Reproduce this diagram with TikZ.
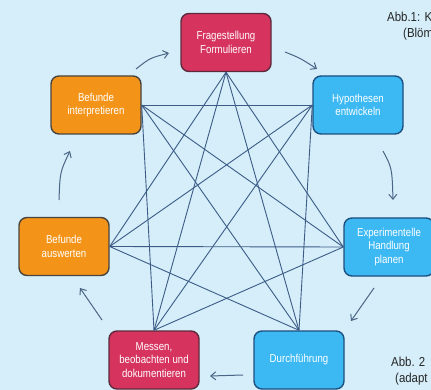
\documentclass[tikz,border=0pt]{standalone}
\usepackage{fontspec}
\setmainfont{Liberation Sans}
\newfontfamily\boxfont[FakeStretch=0.84]{Liberation Sans}
\newfontfamily\capfont[FakeStretch=0.88]{Liberation Sans}
\usetikzlibrary{arrows.meta}
\definecolor{bg}{HTML}{D5EEF9}
\definecolor{crim}{HTML}{D6335F}
\definecolor{crimb}{HTML}{5C2A3C}
\definecolor{oran}{HTML}{F39419}
\definecolor{oranb}{HTML}{4A4440}
\definecolor{blu}{HTML}{3CB9F3}
\definecolor{blub}{HTML}{1D4F80}
\definecolor{lin}{HTML}{3C5C87}
\definecolor{arr}{HTML}{4B6586}
\definecolor{capc}{HTML}{262626}
\tikzset{
  stepbox/.style={rounded corners=8pt, line width=1.4pt, minimum width=90pt, minimum height=58pt,
    inner sep=2pt, align=center, text=white, font=\boxfont\fontsize{11.5}{13.5}\selectfont},
  redbox/.style={stepbox, fill=crim, draw=crimb},
  orbox/.style={stepbox, fill=oran, draw=oranb},
  bluebox/.style={stepbox, fill=blu, draw=blub},
  link/.style={draw=lin, line width=0.9pt},
  cyc/.style={draw=arr, line width=1pt, -{Straight Barb[length=5pt,width=8pt]}},
  captxt/.style={text=capc, font=\capfont\fontsize{13}{16}\selectfont, anchor=west, inner sep=0pt}
}
\begin{document}
\begin{tikzpicture}[x=1pt,y=-1pt]
\useasboundingbox (0,0) rectangle (431,390);
\clip (0,0) rectangle (431,390);
\fill[bg] (0,0) rectangle (431,390);
\node[redbox] (F) at (226,42.5) {Fragestellung\\Formulieren};
\node[bluebox] (H) at (358,105) {Hypothesen\\entwickeln};
\node[bluebox] (E) at (389,247) {Experimentelle\\Handlung\\planen};
\node[bluebox] (D) at (299,360) {Durchführung};
\node[redbox] (M) at (154,360) {Messen,\\beobachten und\\dokumentieren};
\node[orbox] (A) at (64,246.5) {Befunde\\auswerten};
\node[orbox] (I) at (96,105) {Befunde\\interpretieren};
% links
\foreach \a/\b in {F.south/E.west, F.south/D.north, F.south/M.north, F.south/A.east,
  H.west/D.north, H.west/M.north, H.west/A.east, H.west/I.east,
  E.west/M.north, E.west/A.east, E.west/I.east,
  D.north/A.east, D.north/I.east, M.north/I.east}
  \draw[link] (\a) -- (\b);
% cycle arrows
\coordinate (fh1) at (285,52); \coordinate (fh2) at (317,69);
\coordinate (he1) at (383,151); \coordinate (he2) at (393,200);
\coordinate (ed1) at (374,288); \coordinate (ed2) at (351,321);
\coordinate (dm1) at (243,375); \coordinate (dm2) at (210,376);
\coordinate (ma1) at (102,320); \coordinate (ma2) at (80,288);
\coordinate (ai1) at (59,200); \coordinate (ai2) at (70,151);
\coordinate (if1) at (136,69); \coordinate (if2) at (169,53);
\draw[cyc] (fh1) .. controls (300,58) .. (fh2);
\draw[cyc] (he1) .. controls (392,168) .. (he2);
\draw[cyc] (ed1) .. controls (362,304) .. (ed2);
\draw[cyc] (dm1) -- (dm2);
\draw[cyc] (ma1) -- (ma2);
\draw[cyc] (ai1) .. controls (60,172) .. (ai2);
\draw[cyc] (if1) .. controls (150,58) .. (if2);
% captions
\node[captxt] (c1) at (387,17) {Abb.1: K};
\node[captxt] (c2) at (403,34) {(Blöm};
\node[captxt] (c3) at (391,362) {Abb. 2};
\node[captxt] (c4) at (395,379) {(adapt};
\end{tikzpicture}
\end{document}
